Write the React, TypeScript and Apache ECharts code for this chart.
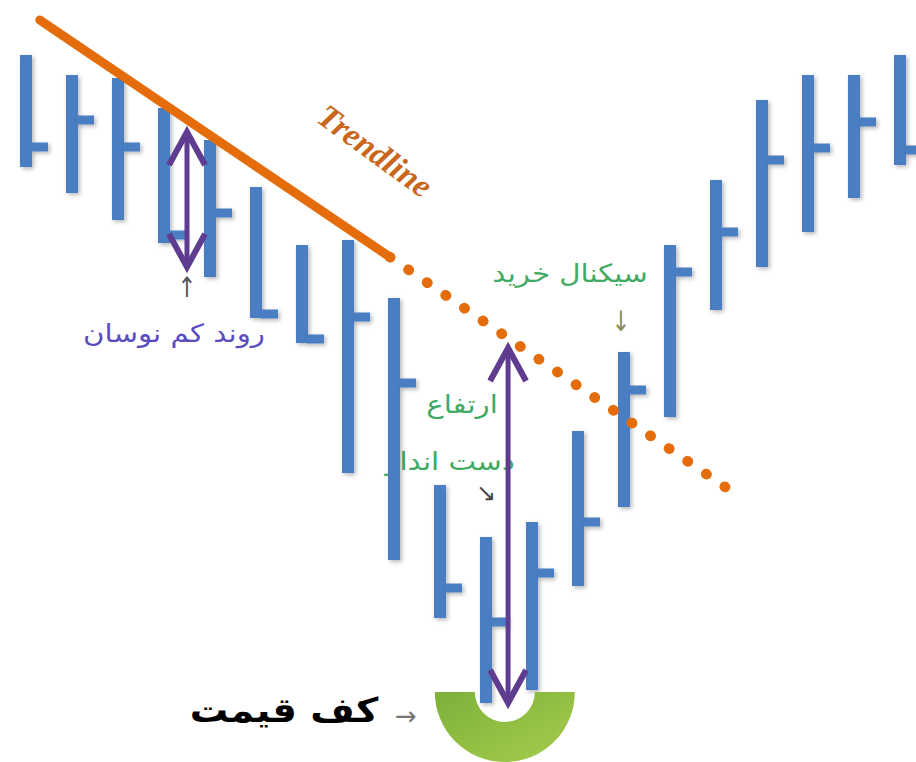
import React, { useEffect, useRef } from "react";
import * as echarts from "echarts";

// Bar index (x) and price values (high, low, close) of the illustrative bar chart
const barIndex = [0, 1, 2, 3, 4, 5, 6, 7, 8, 9, 10, 11, 12, 13, 14, 15, 16, 17, 18, 19];
const highs = [707, 687, 684, 654, 622, 575, 517, 522, 464, 277, 225, 240, 331, 410, 517, 582, 662, 687, 687, 707];
const lows = [595, 569, 542, 519, 485, 444, 419, 289, 202, 144, 59, 72, 176, 255, 345, 452, 495, 530, 564, 597];
const closes = [615, 642, 615, 527, 549, 448, 423, 445, 379, 174, 140, 189, 240, 372, 490, 530, 602, 614, 640, 612];

// Trendline (solid part and dotted projection) in [barIndex, price]
const trendSolid = [[0.3, 742], [7.91, 505]];
const trendDotted = [[7.91, 505], [15.2, 275]];

// Double arrows: [barIndex, topPrice, bottomPrice]
const doubleArrows = [[3.5, 630, 495], [10.48, 414, 59]];

// Price floor ring centre [barIndex, price]
const floorRing = [[10.41, 70]];

const BAR_COLOR = "#4A7EC3";
const ARROW_COLOR = "#5E3C8F";
const GREEN = "#3FAA62";
const FA_FONT = "'DejaVu Sans', 'Noto Sans', sans-serif";

function label(x: number, y: number, text: string, font: string, fill: string, scaleX = 1) {
  return {
    type: "text",
    x,
    y,
    scaleX,
    style: { text, font, fill, align: "center", verticalAlign: "middle" },
  };
}

export default function App() {
  const ref = useRef<HTMLDivElement>(null);

  useEffect(() => {
    if (!ref.current) return;
    const chart = echarts.init(ref.current, undefined, { renderer: "svg" });

    const bars = barIndex.map((x, i) => [x, highs[i], lows[i], closes[i]]);

    const shadow = {
      shadowBlur: 4,
      shadowColor: "rgba(0,0,0,0.28)",
      shadowOffsetX: 2,
      shadowOffsetY: 2,
    };

    const option: any = {
      animation: false,
      backgroundColor: "#ffffff",
      grid: { left: 0, right: 0, top: 0, bottom: 0 },
      xAxis: { type: "value", min: -0.565, max: 19.348, show: false },
      yAxis: { type: "value", min: 0, max: 762, show: false },
      graphic: [
        {
          type: "text",
          x: 375,
          y: 151,
          rotation: -0.63,
          style: {
            text: "Trendline",
            font: "italic bold 33px 'Liberation Serif', 'DejaVu Serif', serif",
            fill: "#C9661C",
            align: "center",
            verticalAlign: "middle",
          },
        },
        label(187, 287, "↑", `28px ${FA_FONT}`, "#555555", 0.8),
        label(174, 333, "روند کم نوسان", `25px ${FA_FONT}`, "#5A4DC2", 1.17),
        label(570, 273, "سیکنال خرید", `25px ${FA_FONT}`, GREEN, 1.17),
        label(621, 321, "↓", `28px ${FA_FONT}`, "#8C8A5C", 0.8),
        label(462, 404, "ارتفاع", `25px ${FA_FONT}`, GREEN, 1.17),
        label(450, 461, "دست انداز", `25px ${FA_FONT}`, GREEN, 1.17),
        label(486, 493, "↘", `24px ${FA_FONT}`, "#444444"),
        label(284, 710, "کف قیمت", `bold 34px ${FA_FONT}`, "#000000", 1.13),
        label(406, 716, "→", `26px ${FA_FONT}`, "#777777"),
      ],
      series: [
        {
          type: "custom",
          name: "bars",
          z: 3,
          data: bars,
          renderItem: (params: any, api: any) => {
            const x = api.value(0);
            const top = api.coord([x, api.value(1)]);
            const bot = api.coord([x, api.value(2)]);
            const cl = api.coord([x, api.value(3)]);
            const w = 12;
            return {
              type: "group",
              children: [
                {
                  type: "rect",
                  shape: { x: top[0] - w / 2, y: top[1], width: w, height: bot[1] - top[1] },
                  style: { fill: BAR_COLOR, ...shadow },
                },
                {
                  type: "rect",
                  shape: { x: top[0] + w / 2 - 1, y: cl[1] - 4.5, width: 17, height: 9 },
                  style: { fill: BAR_COLOR, ...shadow },
                },
              ],
            };
          },
        },
        {
          type: "line",
          name: "trend",
          z: 5,
          data: trendSolid,
          symbol: "none",
          lineStyle: { color: "#E46C0A", width: 9, cap: "round" },
        },
        {
          type: "line",
          name: "trendProjection",
          z: 5,
          data: trendDotted,
          symbol: "none",
          lineStyle: { color: "#E46C0A", width: 10.5, cap: "round", type: [0.5, 22.06] },
        },
        {
          type: "custom",
          name: "arrows",
          z: 6,
          data: doubleArrows,
          renderItem: (params: any, api: any) => {
            const x = api.value(0);
            const p1 = api.coord([x, api.value(1)]);
            const p2 = api.coord([x, api.value(2)]);
            const hw = 18;
            const hh = 33;
            const st = { stroke: ARROW_COLOR, lineWidth: 6, fill: "none", lineJoin: "miter" };
            return {
              type: "group",
              children: [
                { type: "line", shape: { x1: p1[0], y1: p1[1] + 2, x2: p2[0], y2: p2[1] - 2 }, style: { stroke: ARROW_COLOR, lineWidth: 5 } },
                {
                  type: "polyline",
                  shape: { points: [[p1[0] - hw, p1[1] + hh], [p1[0], p1[1]], [p1[0] + hw, p1[1] + hh]] },
                  style: st,
                },
                {
                  type: "polyline",
                  shape: { points: [[p2[0] - hw, p2[1] - hh], [p2[0], p2[1]], [p2[0] + hw, p2[1] - hh]] },
                  style: st,
                },
              ],
            };
          },
        },
        {
          type: "custom",
          name: "floor",
          z: 4,
          data: floorRing,
          renderItem: (params: any, api: any) => {
            const c = api.coord([api.value(0), api.value(1)]);
            return {
              type: "sector",
              shape: { cx: c[0], cy: c[1], r0: 30, r: 70, startAngle: 0, endAngle: Math.PI, clockwise: true },
              style: {
                fill: new echarts.graphic.LinearGradient(0, 0, 1, 1, [
                  { offset: 0, color: "#7DB03A" },
                  { offset: 1, color: "#A6CD4C" },
                ]),
              },
            };
          },
        },
      ],
    };

    chart.setOption(option);
    return () => chart.dispose();
  }, []);

  return (
    <div
      ref={ref}
      style={{ position: "fixed", left: 0, top: 0, width: 916, height: 762, background: "#fff" }}
    />
  );
}
